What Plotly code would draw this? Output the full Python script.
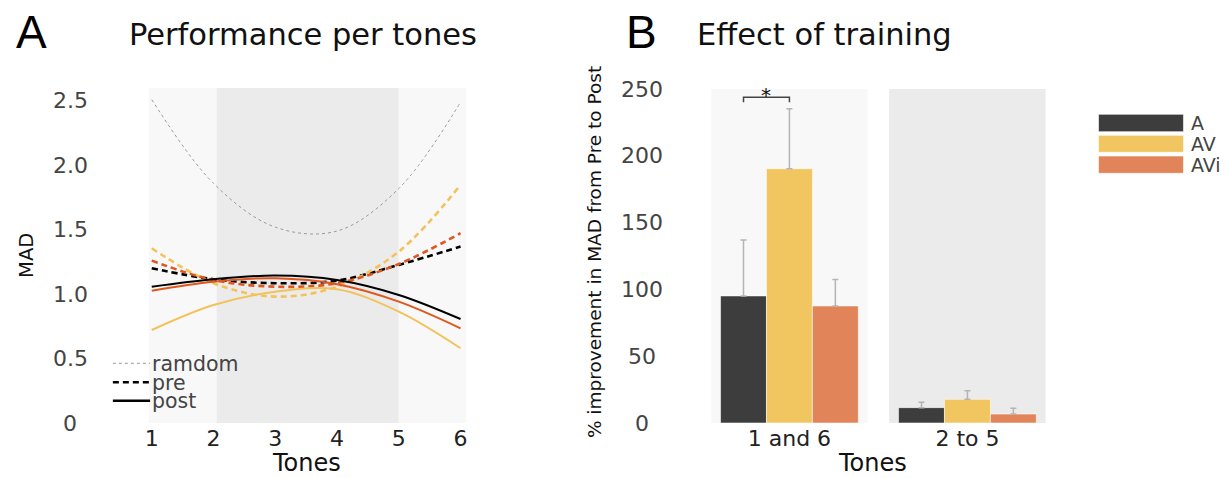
import plotly.graph_objects as go

W, H = 1229, 478

# ---------------- data ----------------
tones = [1, 2, 3, 4, 5, 6]
tone_ticks = [1, 2, 3, 4, 5, 6]
random_mad = [2.51, 1.86, 1.52, 1.49, 1.82, 2.49]
pre_A = [1.201, 1.116, 1.085, 1.105, 1.227, 1.369]
pre_AV = [1.356, 1.085, 0.981, 1.058, 1.330, 1.848]
pre_AVi = [1.260, 1.110, 1.058, 1.085, 1.234, 1.473]
post_A = [1.058, 1.116, 1.144, 1.110, 0.994, 0.807]
post_AV = [0.722, 0.916, 1.019, 1.038, 0.864, 0.580]
post_AVi = [1.027, 1.097, 1.123, 1.077, 0.942, 0.735]
mad_ticks = [0, 0.5, 1.0, 1.5, 2.0, 2.5]
mad_tick_text = ["0", "0.5", "1.0", "1.5", "2.0", "2.5"]

groups = ["1 and 6", "2 to 5"]
imp_A = [95.1, 11.5]
imp_AV = [190.3, 17.7]
imp_AVi = [87.6, 6.7]
err_A = [41.9, 4.0]
err_AV = [45.0, 6.5]
err_AVi = [19.9, 4.3]
imp_ticks = [0, 50, 100, 150, 200, 250]
sig_level = 243.8
series = ["A", "AV", "AVi"]

# ---------------- style ----------------
FONT = "DejaVu Sans"
C_A = "#000000"
C_AV = "#f2c35c"
C_AVi = "#e0561f"
BAR_A = "#3d3d3d"
BAR_AV = "#f1c55f"
BAR_AVi = "#e2845a"
LIGHT = "#f8f8f8"
DARK = "#ebebeb"


def px(x):
    return x / W


def py(y):
    return 1 - y / H


fig = go.Figure()

# left panel curves
fig.add_trace(go.Scatter(x=tones, y=random_mad, mode="lines", line=dict(color="#9a9a9a", width=1, dash="dot", shape="spline"), showlegend=False))
for vals, col in [(pre_A, C_A), (pre_AV, C_AV), (pre_AVi, C_AVi)]:
    fig.add_trace(go.Scatter(x=tones, y=vals, mode="lines", line=dict(color=col, width=2.6, dash="6px,4px", shape="spline"), showlegend=False))
for vals, col in [(post_A, C_A), (post_AV, C_AV), (post_AVi, C_AVi)]:
    fig.add_trace(go.Scatter(x=tones, y=vals, mode="lines", line=dict(color=col, width=2, shape="spline"), showlegend=False))

# right panel bars
for name, vals, err, col in [("A", imp_A, err_A, BAR_A), ("AV", imp_AV, err_AV, BAR_AV), ("AVi", imp_AVi, err_AVi, BAR_AVi)]:
    fig.add_trace(go.Bar(
        x=groups, y=vals, name=name, xaxis="x2", yaxis="y2",
        marker=dict(color=col, line=dict(color="rgba(255,255,255,0.55)", width=1)),
        error_y=dict(type="data", symmetric=False, array=err, arrayminus=[0] * len(err),
                     color="#b4b4b4", thickness=1.5, width=3),
        showlegend=False,
    ))

shapes = []
# left backgrounds
for x0, x1, c in [(0.946, 2.05, LIGHT), (2.05, 5.0, DARK), (5.0, 6.09, LIGHT)]:
    shapes.append(dict(type="rect", xref="x", yref="y domain", x0=x0, x1=x1, y0=0, y1=1,
                       fillcolor=c, line=dict(width=0), layer="below"))
# right backgrounds
for x0, x1, c in [(-0.44, 0.44, LIGHT), (0.56, 1.44, DARK)]:
    shapes.append(dict(type="rect", xref="x2", yref="y2 domain", x0=x0, x1=x1, y0=0, y1=1,
                       fillcolor=c, line=dict(width=0), layer="below"))

# significance bracket between A and AV in "1 and 6"
bargap = 0.226
bw = (1 - bargap) / 3
xa, xv = -bw, 0.0
shapes.append(dict(type="path", xref="x2", yref="y2",
                   path=f"M {xa},{sig_level-3.8} L {xa},{sig_level} L {xv},{sig_level} L {xv},{sig_level-3.8}",
                   line=dict(color="#444444", width=1.5)))

# left legend (line styles)
leg_lines = [("ramdom", dict(color="#9a9a9a", width=1, dash="dot"), 363.3),
             ("pre", dict(color="#000000", width=2.6, dash="6px,4px"), 382.3),
             ("post", dict(color="#000000", width=2.6), 400.7)]
annotations = []
for lab, ln, yy in leg_lines:
    shapes.append(dict(type="line", xref="paper", yref="paper", x0=px(109.3), x1=px(146.7),
                       y0=py(yy), y1=py(yy), line=ln))
    annotations.append(dict(text=lab, xref="paper", yref="paper", x=px(148), y=py(yy + 0.5),
                            xanchor="left", yanchor="middle", showarrow=False, borderpad=0,
                            font=dict(family=FONT, size=20.5, color="#444444")))

# right legend (colour swatches)
for lab, col, (y0, y1) in [("A", BAR_A, (114.3, 131.7)), ("AV", BAR_AV, (135.3, 152.3)), ("AVi", BAR_AVi, (156.0, 173.3))]:
    shapes.append(dict(type="rect", xref="paper", yref="paper", x0=px(1099), x1=px(1184.3),
                       y0=py(y1), y1=py(y0), fillcolor=col,
                       line=dict(color="rgba(255,255,255,0.6)", width=1)))
    annotations.append(dict(text=lab, xref="paper", yref="paper", x=px(1189.5), y=py((y0 + y1) / 2),
                            xanchor="left", yanchor="middle", showarrow=False,
                            font=dict(family=FONT, size=19, color="#444444")))

# y tick labels (centred)
for v, t in zip(mad_ticks, mad_tick_text):
    annotations.append(dict(text=t, xref="paper", yref="y", x=px(66.7), y=v, xanchor="center",
                            yanchor="middle", showarrow=False, font=dict(family=FONT, size=22, color="#444444")))
for v in imp_ticks:
    annotations.append(dict(text=str(v), xref="paper", yref="y2", x=px(641), y=v, xanchor="center",
                            yanchor="middle", showarrow=False, font=dict(family=FONT, size=22, color="#444444")))

# axis titles
annotations += [
    dict(text="MAD", xref="paper", yref="paper", x=px(22.5), y=py(255.5), textangle=-90,
         xanchor="center", yanchor="middle", showarrow=False, font=dict(family=FONT, size=19.5, color="#111111")),
    dict(text="% improvement in MAD from Pre to Post", xref="paper", yref="paper", x=px(593), y=py(252.5),
         textangle=-90, xanchor="center", yanchor="middle", showarrow=False,
         font=dict(family=FONT, size=18.5, color="#111111")),
    dict(text="Tones", xref="paper", yref="paper", x=px(304), y=0, xanchor="center", yanchor="bottom",
         showarrow=False, borderpad=0, font=dict(family=FONT, size=24, color="#111111")),
    dict(text="Tones", xref="paper", yref="paper", x=px(872), y=0, xanchor="center", yanchor="bottom",
         showarrow=False, borderpad=0, font=dict(family=FONT, size=24, color="#111111")),
    # panel letters and titles
    dict(text="A", xref="paper", yref="paper", x=px(10), y=py(32), xanchor="left", yanchor="middle",
         showarrow=False, font=dict(family="Liberation Sans", size=46, color="#000000")),
    dict(text="B", xref="paper", yref="paper", x=px(623), y=py(32), xanchor="left", yanchor="middle",
         showarrow=False, font=dict(family="Liberation Sans", size=46, color="#000000")),
    dict(text="Performance per tones", xref="paper", yref="paper", x=px(124), y=py(34.5), xanchor="left",
         yanchor="middle", showarrow=False, font=dict(family=FONT, size=30.5, color="#111111")),
    dict(text="Effect of training", xref="paper", yref="paper", x=px(694), y=py(34.5), xanchor="left",
         yanchor="middle", showarrow=False, font=dict(family=FONT, size=30.5, color="#111111")),
    dict(text="*", xref="x2", yref="y2", x=(xa + xv) / 2, y=sig_level + 2, xanchor="center",
         yanchor="middle", showarrow=False, font=dict(family=FONT, size=20, color="#111111")),
]

fig.update_layout(
    width=W, height=H, margin=dict(l=0, r=0, t=0, b=0),
    paper_bgcolor="white", plot_bgcolor="rgba(0,0,0,0)",
    barmode="group", bargap=bargap, bargroupgap=0,
    showlegend=False,
    shapes=shapes, annotations=annotations,
    xaxis=dict(domain=[px(145), px(464)], range=[0.946, 6.09], tickvals=tone_ticks,
               showgrid=False, zeroline=False, showline=False, ticks="",
               tickfont=dict(family=FONT, size=22, color="#222222"), anchor="y"),
    yaxis=dict(domain=[py(423), py(88)], range=[0, 2.6], showticklabels=False, showgrid=False,
               zeroline=False, showline=False, anchor="x"),
    xaxis2=dict(domain=[px(710), px(1046)], type="category", range=[-0.44, 1.44], showgrid=False,
                zeroline=False, showline=False, ticks="",
                tickfont=dict(family=FONT, size=22, color="#222222"), anchor="y2"),
    yaxis2=dict(domain=[py(423), py(89)], range=[0, 250], showticklabels=False, showgrid=False,
                zeroline=False, showline=False, anchor="x2"),
)

fig.write_html("out.html", config={"displayModeBar": False},
               post_script="document.body.style.margin='0';document.body.style.overflow='hidden';")
